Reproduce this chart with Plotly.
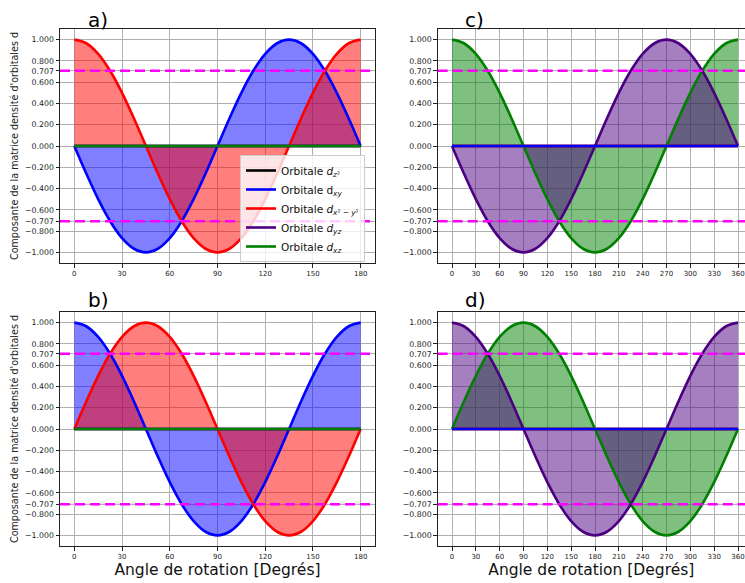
import plotly.graph_objects as go

# ---------------- data ----------------
# panels a) and b): rotation angle 0..180 deg (step 7.5)
angle_ab = [0, 7.5, 15, 22.5, 30, 37.5, 45, 52.5, 60, 67.5, 75, 82.5, 90,
            97.5, 105, 112.5, 120, 127.5, 135, 142.5, 150, 157.5, 165, 172.5, 180]
# panels c) and d): rotation angle 0..360 deg (step 15)
angle_cd = [0, 15, 30, 45, 60, 75, 90, 105, 120, 135, 150, 165, 180,
            195, 210, 225, 240, 255, 270, 285, 300, 315, 330, 345, 360]

# panel a)
a_dxy = [0, -0.259, -0.5, -0.707, -0.866, -0.966, -1, -0.966, -0.866, -0.707, -0.5, -0.259, 0,
         0.259, 0.5, 0.707, 0.866, 0.966, 1, 0.966, 0.866, 0.707, 0.5, 0.259, 0]
a_dx2y2 = [1, 0.966, 0.866, 0.707, 0.5, 0.259, 0, -0.259, -0.5, -0.707, -0.866, -0.966, -1,
           -0.966, -0.866, -0.707, -0.5, -0.259, 0, 0.259, 0.5, 0.707, 0.866, 0.966, 1]
# panel b)
b_dxy = [1, 0.966, 0.866, 0.707, 0.5, 0.259, 0, -0.259, -0.5, -0.707, -0.866, -0.966, -1,
         -0.966, -0.866, -0.707, -0.5, -0.259, 0, 0.259, 0.5, 0.707, 0.866, 0.966, 1]
b_dx2y2 = [0, 0.259, 0.5, 0.707, 0.866, 0.966, 1, 0.966, 0.866, 0.707, 0.5, 0.259, 0,
           -0.259, -0.5, -0.707, -0.866, -0.966, -1, -0.966, -0.866, -0.707, -0.5, -0.259, 0]
# panel c)
c_dyz = [0, -0.259, -0.5, -0.707, -0.866, -0.966, -1, -0.966, -0.866, -0.707, -0.5, -0.259, 0,
         0.259, 0.5, 0.707, 0.866, 0.966, 1, 0.966, 0.866, 0.707, 0.5, 0.259, 0]
c_dxz = [1, 0.966, 0.866, 0.707, 0.5, 0.259, 0, -0.259, -0.5, -0.707, -0.866, -0.966, -1,
         -0.966, -0.866, -0.707, -0.5, -0.259, 0, 0.259, 0.5, 0.707, 0.866, 0.966, 1]
# panel d)
d_dyz = [1, 0.966, 0.866, 0.707, 0.5, 0.259, 0, -0.259, -0.5, -0.707, -0.866, -0.966, -1,
         -0.966, -0.866, -0.707, -0.5, -0.259, 0, 0.259, 0.5, 0.707, 0.866, 0.966, 1]
d_dxz = [0, 0.259, 0.5, 0.707, 0.866, 0.966, 1, 0.966, 0.866, 0.707, 0.5, 0.259, 0,
         -0.259, -0.5, -0.707, -0.866, -0.966, -1, -0.966, -0.866, -0.707, -0.5, -0.259, 0]
zero_curve = [0] * 25

threshold = 0.707
y_tickvals = [-1.0, -0.8, -0.707, -0.6, -0.4, -0.2, 0.0, 0.2, 0.4, 0.6, 0.707, 0.8, 1.0]
x_ticks_ab = [0, 30, 60, 90, 120, 150, 180]
x_ticks_cd = [0, 30, 60, 90, 120, 150, 180, 210, 240, 270, 300, 330, 360]
panel_labels = ["a)", "b)", "c)", "d)"]
ylabel = "Composante de la matrice densité d'orbitales d"
xlabel = "Angle de rotation [Degrés]"

names = {
    "z2": "Orbitale <i>d</i><sub><i>z</i>²</sub>",
    "xy": "Orbitale d<sub><i>xy</i></sub>",
    "x2y2": "Orbitale <i>d</i><sub><i>x</i>² <i>− y</i>²</sub>",
    "yz": "Orbitale <i>d</i><sub><i>yz</i></sub>",
    "xz": "Orbitale <i>d</i><sub><i>xz</i></sub>",
}
colors = {"z2": "black", "xy": "blue", "x2y2": "red", "yz": "#4B0082", "xz": "green"}
fills = {"xy": "rgba(0,0,255,0.5)", "x2y2": "rgba(255,0,0,0.5)",
         "yz": "rgba(75,0,130,0.5)", "xz": "rgba(0,128,0,0.5)"}

FONT = "DejaVu Sans"
W, H = 745, 583

fig = go.Figure()

def px_x(p):
    return p / W

def px_y(p):
    return 1 - p / H

# axis ids: a -> x/y, b -> x2/y2, c -> x3/y3, d -> x4/y4
panels = {
    "a": dict(ax="", x=angle_ab, fill_order=[("xy", a_dxy), ("x2y2", a_dx2y2)],
              lines=[("z2", zero_curve), ("xy", a_dxy), ("x2y2", a_dx2y2),
                     ("yz", zero_curve), ("xz", zero_curve)]),
    "b": dict(ax="2", x=angle_ab, fill_order=[("xy", b_dxy), ("x2y2", b_dx2y2)],
              lines=[("z2", zero_curve), ("xy", b_dxy), ("x2y2", b_dx2y2),
                     ("yz", zero_curve), ("xz", zero_curve)]),
    "c": dict(ax="3", x=angle_cd, fill_order=[("xz", c_dxz), ("yz", c_dyz)],
              lines=[("z2", zero_curve), ("x2y2", zero_curve), ("xz", c_dxz),
                     ("yz", c_dyz), ("xy", zero_curve)]),
    "d": dict(ax="4", x=angle_cd, fill_order=[("xz", d_dxz), ("yz", d_dyz)],
              lines=[("z2", zero_curve), ("x2y2", zero_curve), ("xz", d_dxz),
                     ("yz", d_dyz), ("xy", zero_curve)]),
}

legend_rank = {"z2": 1, "xy": 2, "x2y2": 3, "yz": 4, "xz": 5}

for key, p in panels.items():
    xa = "x" + p["ax"]
    ya = "y" + p["ax"]
    for k, vals in p["fill_order"]:
        fig.add_trace(go.Scatter(x=p["x"], y=vals, xaxis=xa, yaxis=ya, mode="lines",
                                 line=dict(width=0, shape="spline", color=fills[k]),
                                 fill="tozeroy", fillcolor=fills[k],
                                 showlegend=False, hoverinfo="skip"))
    for k, vals in p["lines"]:
        fig.add_trace(go.Scatter(x=p["x"], y=vals, xaxis=xa, yaxis=ya, mode="lines",
                                 line=dict(width=2.6, shape="spline", color=colors[k]),
                                 name=names[k], legendgroup=k,
                                 legendrank=legend_rank[k],
                                 showlegend=(key == "a")))
    # dashed magenta thresholds
    for yv in (threshold, -threshold):
        fig.add_shape(type="line", xref=xa + " domain", yref=ya, x0=0, x1=1,
                      y0=yv, y1=yv, line=dict(color="#FF00FF", width=2.6, dash="10px,5px"),
                      layer="above")

# domains (pixel based)
dom_x_ab = [px_x(60), px_x(375)]
dom_x_cd = [px_x(437.7), 1.0]
dom_y_top = [px_y(263), px_y(29)]
dom_y_bot = [px_y(546), px_y(312)]

y_ticktext = [("−" if v < 0 else "") + f"{abs(v):.3f}" for v in y_tickvals]

def xaxis_cfg(domain, anchor, rng, ticks, title=None):
    d = dict(domain=domain, anchor=anchor, range=rng, tickmode="array",
             tickvals=ticks, ticktext=[str(t) for t in ticks],
             showgrid=True, gridcolor="#b0b0b0", gridwidth=0.8,
             zeroline=False, showline=True, linecolor="#222", linewidth=1,
             mirror=True, ticks="outside", ticklen=3.5, tickcolor="#222",
             tickfont=dict(family=FONT, size=7, color="#222"))
    if title:
        d["title"] = dict(text=title, font=dict(family=FONT, size=15.5, color="#111"),
                          standoff=2)
    return d

def yaxis_cfg(domain, anchor, mirror, title=None):
    d = dict(domain=domain, anchor=anchor, range=[-1.1, 1.1], tickmode="array",
             tickvals=y_tickvals, ticktext=y_ticktext,
             showgrid=True, gridcolor="#b0b0b0", gridwidth=0.8,
             zeroline=False, showline=True, linecolor="#222", linewidth=1,
             mirror=mirror, ticks="outside", ticklen=3.5, tickcolor="#222",
             tickfont=dict(family=FONT, size=7.8, color="#222"))
    if title:
        d["title"] = dict(text=title, font=dict(family=FONT, size=9.6, color="#222"),
                          standoff=4)
    return d

rng_ab = [-9, 189]
rng_cd = [-18, 360 + (745 - 738) / 286 * 360]

fig.update_layout(
    width=W, height=H,
    margin=dict(l=0, r=0, t=0, b=0),
    paper_bgcolor="white", plot_bgcolor="white",
    font=dict(family=FONT),
    xaxis=xaxis_cfg(dom_x_ab, "y", rng_ab, x_ticks_ab),
    yaxis=yaxis_cfg(dom_y_top, "x", True, ylabel),
    xaxis2=xaxis_cfg(dom_x_ab, "y2", rng_ab, x_ticks_ab, xlabel),
    yaxis2=yaxis_cfg(dom_y_bot, "x2", True, ylabel),
    xaxis3=xaxis_cfg(dom_x_cd, "y3", rng_cd, x_ticks_cd),
    yaxis3=yaxis_cfg(dom_y_top, "x3", False),
    xaxis4=xaxis_cfg(dom_x_cd, "y4", rng_cd, x_ticks_cd, xlabel),
    yaxis4=yaxis_cfg(dom_y_bot, "x4", False),
    showlegend=True,
    legend=dict(x=px_x(240), y=px_y(155), xanchor="left", yanchor="top",
                bgcolor="rgba(255,255,255,0.8)", bordercolor="#cccccc", borderwidth=1,
                font=dict(family=FONT, size=10.5, color="#111"),
                tracegroupgap=0, itemwidth=30),
)

# panel titles
title_pos = [(86, 20), (86, 300), (463, 20), (463, 300)]
for lab, (tx, ty) in zip(panel_labels, title_pos):
    fig.add_annotation(text=lab, xref="paper", yref="paper", x=px_x(tx), y=px_y(ty),
                       xanchor="left", yanchor="middle", showarrow=False,
                       font=dict(family=FONT, size=20, color="black"))

fig.write_html("out.html")
